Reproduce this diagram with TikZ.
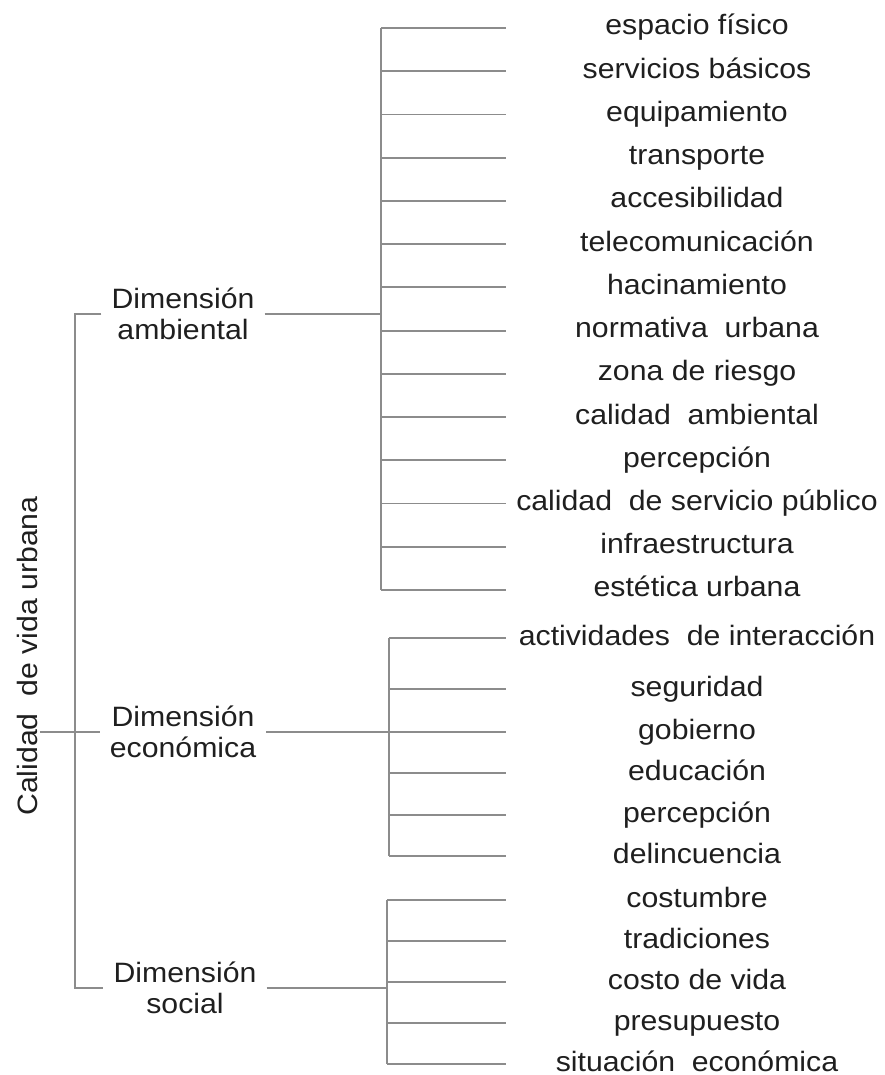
\documentclass[tikz,border=0pt]{standalone}
\usepackage{fontspec}
\setmainfont{Liberation Sans}[FakeStretch=1.08]
\usetikzlibrary{positioning}
\tikzset{
  dimbox/.style={align=center, font=\fontsize{28}{31}\selectfont, inner sep=10pt},
  leafbox/.style={font=\fontsize{28}{31}\selectfont, minimum width=382pt, inner sep=0pt,
    text height=17pt, text depth=3pt},
  branch/.style={draw=black!45, line width=1.8pt}
}
\begin{document}
\begin{tikzpicture}[x=1pt, y=-1pt, text=black!88]
        \useasboundingbox (0,0) rectangle (884,1075);

        % Root and the three dimensions
        \node[rotate=90, font=\fontsize{28}{31}\selectfont, inner sep=3pt] (root) at (27,656) {Calidad\ \ de vida urbana};
        \node[dimbox] (amb) at (183,314) {Dimensión\\ambiental};
        \node[dimbox] (eco) at (183,732) {Dimensión\\económica};
        \node[dimbox] (soc) at (185,988) {Dimensión\\social};

        % Left bracket
        \coordinate (spine) at (75,0);
        \draw[branch] (amb.west) -- (amb.west -| spine) -- (soc.west -| spine) -- (soc.west);
        \draw[branch] (root.south |- eco.west) -- (eco.west);

        % Leaves of each dimension
        \foreach \txt [count=\i] in {espacio físico, servicios básicos, equipamiento,
            transporte, accesibilidad, telecomunicación, hacinamiento,
            normativa\ \ urbana, zona de riesgo, calidad\ \ ambiental, percepción,
            calidad\ \ de servicio público, infraestructura, estética urbana}
            \node[leafbox] (amb\i) at (697,{28+43.23*(\i-1)}) {\txt};
        \foreach \txt/\y [count=\i] in {actividades\ \ de interacción/638, seguridad/689,
            gobierno/732, educación/773, percepción/815, delincuencia/856}
            \node[leafbox] (eco\i) at (697,\y) {\txt};
        \foreach \txt [count=\i] in {costumbre, tradiciones, costo de vida,
            presupuesto, situación\ \ económica}
            \node[leafbox] (soc\i) at (697,{900+41*(\i-1)}) {\txt};

        % Ambiental branch
        \coordinate (ambbar) at (381,0);
        \draw[branch] (amb.east) -- (amb.east -| ambbar);
        \draw[branch] (amb1.west -| ambbar) -- (amb14.west -| ambbar);
        \foreach \i in {1,...,14}
            \draw[branch] (amb\i.west -| ambbar) -- (amb\i.west);

        % Economica branch
        \coordinate (ecobar) at (389,0);
        \draw[branch] (eco.east) -- (eco.east -| ecobar);
        \draw[branch] (eco1.west -| ecobar) -- (eco6.west -| ecobar);
        \foreach \i in {1,...,6}
            \draw[branch] (eco\i.west -| ecobar) -- (eco\i.west);

        % Social branch
        \coordinate (socbar) at (387,0);
        \draw[branch] (soc.east) -- (soc.east -| socbar);
        \draw[branch] (soc1.west -| socbar) -- (soc5.west -| socbar);
        \foreach \i in {1,...,5}
            \draw[branch] (soc\i.west -| socbar) -- (soc\i.west);
\end{tikzpicture}
\end{document}
